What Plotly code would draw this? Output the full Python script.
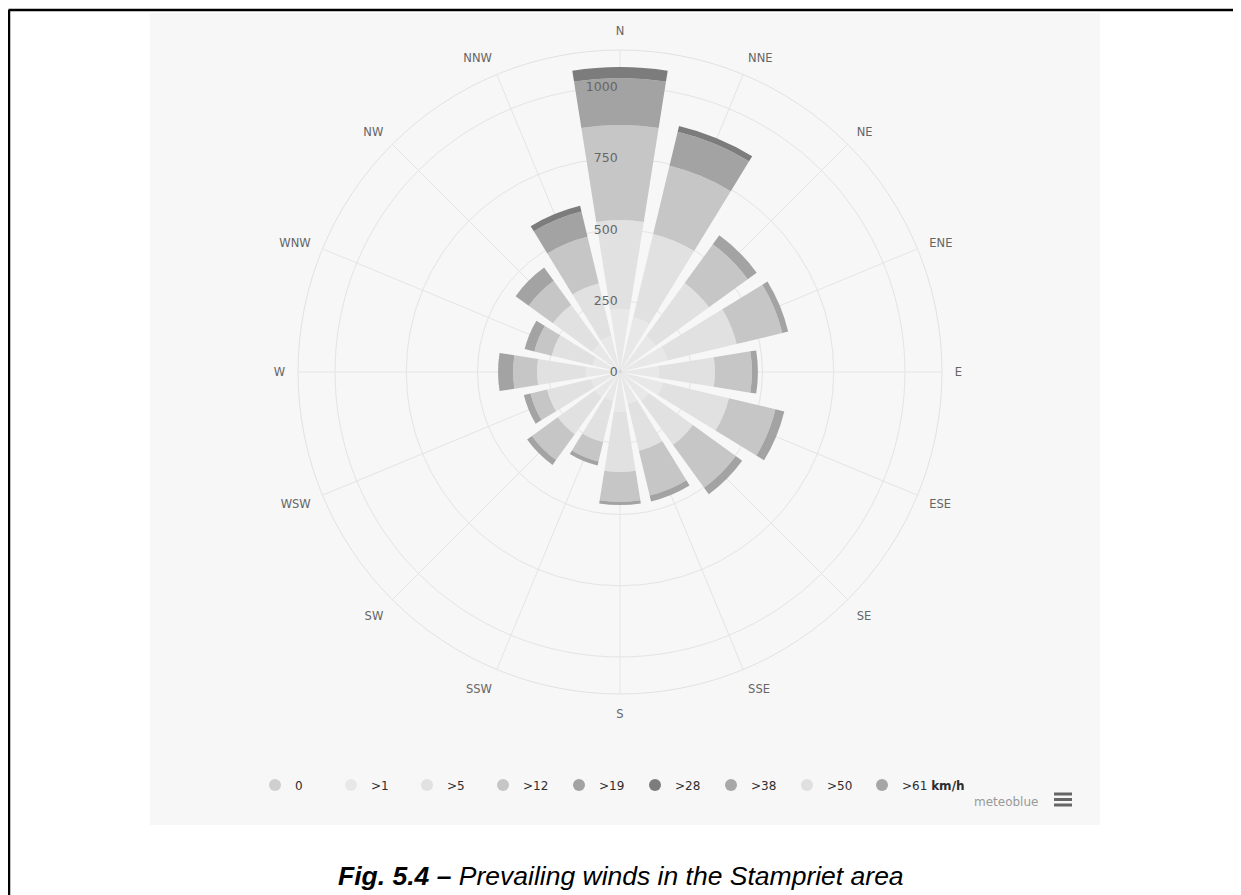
import plotly.graph_objects as go

directions = ["N", "NNE", "NE", "ENE", "E", "ESE", "SE", "SSE",
              "S", "SSW", "SW", "WSW", "W", "WNW", "NW", "NNW"]

speed_classes = ["0", ">1", ">5", ">12", ">19", ">28", ">38", ">50", ">61 <b>km/h</b>"]
class_colors = ["#cfcfcf", "#e8e8e8", "#e1e1e1", "#c6c6c6", "#a3a3a3",
                "#7c7c7c", "#a8a8a8", "#e0e0e0", "#a6a6a6"]

v_0 = [10, 8, 6, 6, 6, 6, 5, 5, 5, 4, 4, 4, 5, 4, 5, 5]
v_1 = [210, 190, 150, 165, 130, 150, 120, 110, 135, 100, 105, 100, 115, 95, 115, 125]
v_5 = [313, 300, 230, 250, 197, 237, 191, 169, 211, 149, 161, 159, 171, 147, 171, 189]
v_12 = [334, 246, 168, 165, 130, 168, 186, 162, 105, 70, 112, 60, 84, 63, 105, 169]
v_19 = [165, 123, 39, 21, 21, 32, 28, 21, 11, 14, 21, 24, 53, 35, 57, 91]
v_28 = [38, 21, 0, 0, 0, 0, 0, 0, 0, 0, 0, 0, 0, 0, 0, 21]
v_38 = [0] * 16
v_50 = [0] * 16
v_61 = [0] * 16
series = [v_0, v_1, v_5, v_12, v_19, v_28, v_38, v_50, v_61]

radial_ticks = [0, 250, 500, 750, 1000]
caption_bold = "Fig. 5.4 –"
caption_rest = " Prevailing winds in the Stampriet area"

# page body has an 8px margin; work in page pixels and convert
OFF = 8
W, H = 1241 - OFF, 895 - OFF


def px(x):
    return (x - OFF) / W


def py(y):
    return 1 - (y - OFF) / H


fig = go.Figure()

for name, col, vals in zip(speed_classes, class_colors, series):
    fig.add_trace(go.Barpolar(
        r=vals, theta=directions, name=name, width=0.8,
        marker=dict(color=col, line=dict(width=0)),
        showlegend=False, hoverinfo="skip"))

for i, (name, col) in enumerate(zip(speed_classes, class_colors)):
    fig.add_trace(go.Scatterpolar(
        r=[None], theta=[None], mode="markers", name=name,
        marker=dict(color=col, size=12, symbol="circle"),
        showlegend=True, legend="legend2" if i == len(speed_classes) - 1 else "legend"))

cx, cy, R = 620, 372, 322
leg_common = dict(
    orientation="h", y=py(785), xanchor="left", yanchor="middle",
    bgcolor="rgba(0,0,0,0)",
    font=dict(family="DejaVu Sans", size=12, color="#2e2e2e"),
    itemclick=False, itemdoubleclick=False,
)
fig.update_layout(
    width=W, height=H,
    margin=dict(l=0, r=0, t=0, b=0),
    paper_bgcolor="white",
    barmode="stack",
    polar=dict(
        domain=dict(x=[px(cx - R), px(cx + R)], y=[py(cy + R), py(cy - R)]),
        bgcolor="#f7f7f7",
        bargap=0,
        angularaxis=dict(
            direction="clockwise", rotation=90,
            categoryorder="array", categoryarray=directions,
            showgrid=True, gridcolor="#e4e4e4", gridwidth=1,
            showline=True, linecolor="#e2e2e2", linewidth=1,
            ticks="outside", ticklen=10, tickcolor="rgba(0,0,0,0)",
            tickfont=dict(family="DejaVu Sans", size=11.5, color="#666666"),
        ),
        radialaxis=dict(
            range=[0, 1130], angle=90, tickangle=90, side="counterclockwise",
            tickvals=radial_ticks, ticktext=[str(t) for t in radial_ticks],
            showgrid=True, gridcolor="#e4e4e4", gridwidth=1,
            showline=False, ticks="", layer="above traces",
            tickfont=dict(family="DejaVu Sans", size=12.5, color="#666666"),
        ),
    ),
    legend=dict(x=px(255), entrywidth=31, entrywidthmode="pixels", **leg_common),
    legend2=dict(x=px(862), **leg_common),
)

shapes = [
    dict(type="rect", xref="paper", yref="paper", layer="below",
         x0=px(150), x1=px(1100), y0=py(825), y1=py(13),
         fillcolor="#f7f7f7", line=dict(width=0)),
    dict(type="line", xref="paper", yref="paper",
         x0=px(8.5), x1=1.0, y0=py(10), y1=py(10),
         line=dict(color="black", width=2.5)),
    dict(type="line", xref="paper", yref="paper",
         x0=px(9), x1=px(9), y0=0, y1=py(10),
         line=dict(color="black", width=2.5)),
]
for yy in [794, 799.5, 805]:
    shapes.append(dict(type="line", xref="paper", yref="paper",
                       x0=px(1054), x1=px(1072), y0=py(yy), y1=py(yy),
                       line=dict(color="#666666", width=3)))
fig.update_layout(shapes=shapes)

fig.add_annotation(x=px(1040), y=py(802), xref="paper", yref="paper",
                   text="meteoblue", showarrow=False, xanchor="right", yanchor="middle",
                   font=dict(family="DejaVu Sans", size=12, color="#999999"))
fig.add_annotation(x=px(621), y=py(876), xref="paper", yref="paper",
                   text="<b><i>" + caption_bold + "</i></b><i>" + caption_rest + "</i>",
                   showarrow=False, xanchor="center", yanchor="middle",
                   font=dict(family="Liberation Sans", size=26.5, color="black"))

fig.write_html("out.html")
